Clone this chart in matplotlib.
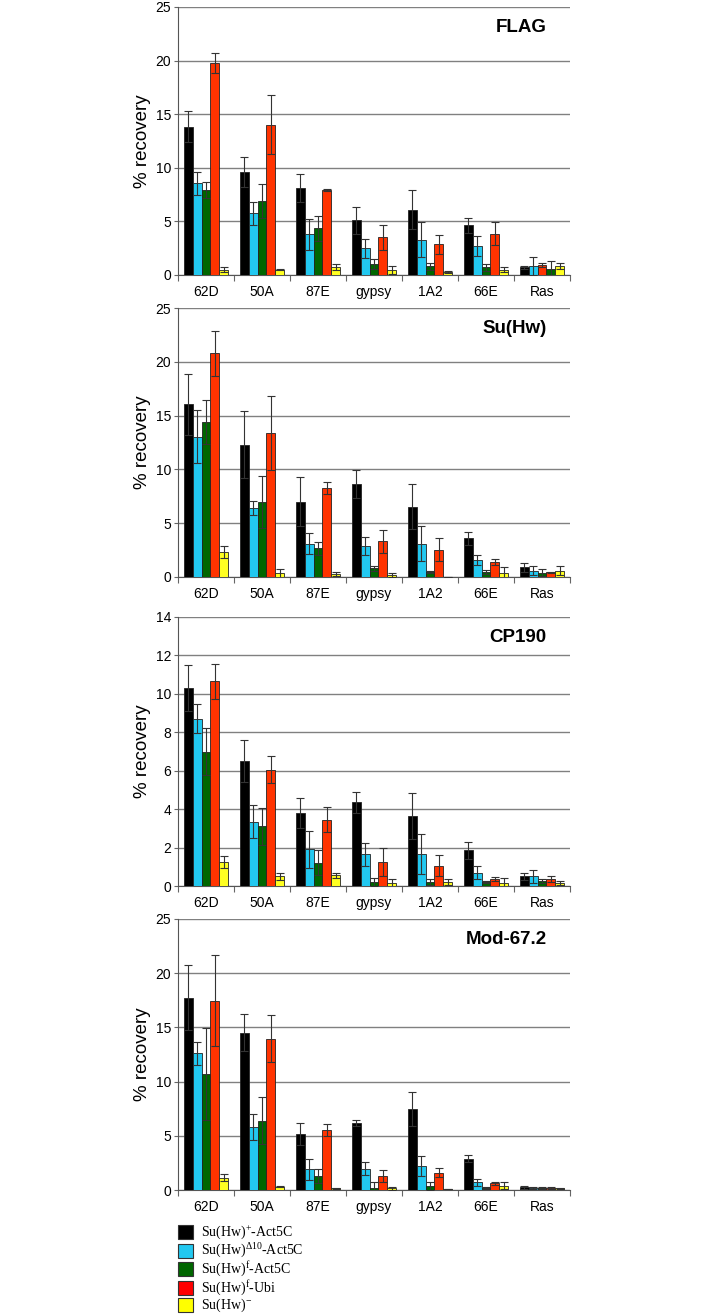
import matplotlib
matplotlib.use("Agg")
import matplotlib.pyplot as plt
import numpy as np

plt.rcParams['font.family'] = ['Liberation Sans', 'DejaVu Sans']
plt.rcParams['mathtext.fontset'] = 'custom'
plt.rcParams['mathtext.rm'] = 'Liberation Serif'
plt.rcParams['mathtext.it'] = 'Liberation Serif:italic'

loci = ['62D', '50A', '87E', 'gypsy', '1A2', '66E', 'Ras']
series = ['Su(Hw)$^{+}$-Act5C', 'Su(Hw)$^{\\Delta10}$-Act5C', 'Su(Hw)$^{\\mathrm{f}}$-Act5C',
          'Su(Hw)$^{\\mathrm{f}}$-Ubi', 'Su(Hw)$^{-}$']
colors = ['#000000', '#22c8f0', '#006600', '#ff3300', '#ffff22']
legend_colors = ['#000000', '#22c8f0', '#006600', '#ff0000', '#ffff00']

# FLAG
flag_mean = [
    [13.85, 9.6, 8.1, 5.1, 6.1, 4.65, 0.7],
    [8.55, 5.75, 3.8, 2.5, 3.3, 2.7, 0.85],
    [7.9, 6.9, 4.35, 1.0, 0.8, 0.7, 0.6],
    [19.8, 14.0, 7.95, 3.5, 2.85, 3.85, 0.95],
    [0.5, 0.5, 0.75, 0.45, 0.25, 0.5, 0.85],
]
flag_err = [
    [1.45, 1.4, 1.3, 1.25, 1.8, 0.7, 0.1],
    [1.1, 1.1, 1.45, 0.9, 1.65, 0.95, 0.85],
    [0.75, 1.55, 1.2, 0.45, 0.3, 0.3, 0.7],
    [0.95, 2.75, 0.1, 1.2, 0.85, 1.05, 0.2],
    [0.2, 0.05, 0.3, 0.35, 0.1, 0.2, 0.3],
]
# Su(Hw)
suhw_mean = [
    [16.05, 12.3, 7.0, 8.6, 6.55, 3.6, 0.9],
    [13.05, 6.45, 3.1, 2.85, 3.1, 1.6, 0.6],
    [14.4, 7.0, 2.65, 0.8, 0.45, 0.45, 0.4],
    [20.8, 13.35, 8.25, 3.3, 2.55, 1.4, 0.45],
    [2.3, 0.35, 0.3, 0.2, 0.03, 0.4, 0.6],
]
suhw_err = [
    [2.85, 3.1, 2.25, 1.3, 2.1, 0.6, 0.4],
    [2.5, 0.65, 1.0, 0.85, 1.65, 0.45, 0.4],
    [2.05, 2.4, 0.6, 0.25, 0.1, 0.2, 0.3],
    [2.1, 3.45, 0.55, 1.1, 1.1, 0.3, 0.05],
    [0.55, 0.4, 0.2, 0.2, 0.0, 0.5, 0.4],
]
# CP190
cp190_mean = [
    [10.3, 6.5, 3.8, 4.35, 3.65, 1.85, 0.5],
    [8.7, 3.35, 1.9, 1.65, 1.65, 0.7, 0.5],
    [7.0, 3.1, 1.2, 0.2, 0.2, 0.2, 0.25],
    [10.65, 6.05, 3.45, 1.25, 1.05, 0.35, 0.35],
    [1.25, 0.5, 0.55, 0.15, 0.2, 0.15, 0.15],
]
cp190_err = [
    [1.2, 1.1, 0.8, 0.55, 1.2, 0.45, 0.2],
    [0.75, 0.85, 0.95, 0.6, 1.05, 0.35, 0.35],
    [1.2, 0.95, 0.65, 0.2, 0.15, 0.05, 0.1],
    [0.9, 0.7, 0.65, 0.75, 0.55, 0.1, 0.15],
    [0.3, 0.2, 0.15, 0.2, 0.15, 0.25, 0.1],
]
# Mod-67.2
mod_mean = [
    [17.75, 14.5, 5.15, 6.2, 7.45, 2.9, 0.25],
    [12.6, 5.85, 1.9, 1.95, 2.2, 0.7, 0.2],
    [10.7, 6.4, 1.3, 0.2, 0.35, 0.2, 0.2],
    [17.45, 13.95, 5.5, 1.3, 1.6, 0.6, 0.2],
    [1.15, 0.3, 0.15, 0.15, 0.05, 0.4, 0.15],
]
mod_err = [
    [3.0, 1.7, 1.0, 0.25, 1.55, 0.3, 0.15],
    [1.05, 1.2, 0.95, 0.6, 0.95, 0.35, 0.1],
    [4.2, 2.2, 0.65, 0.55, 0.35, 0.1, 0.1],
    [4.2, 2.15, 0.55, 0.55, 0.4, 0.1, 0.1],
    [0.3, 0.05, 0.05, 0.15, 0.0, 0.35, 0.05],
]

panels = [
    ('FLAG', flag_mean, flag_err, 25, 5),
    ('Su(Hw)', suhw_mean, suhw_err, 25, 5),
    ('CP190', cp190_mean, cp190_err, 14, 2),
    ('Mod-67.2', mod_mean, mod_err, 25, 5),
]
# in the FLAG panel the Ras group has the red and green bars swapped
flag_ras_slots = [0, 1, 3, 2, 4]

# axes boxes in pixels: top, bottom
boxes = [(7, 275), (308, 577), (617, 886), (919, 1190)]
W, H = 714, 1314

fig = plt.figure(figsize=(W / 100, H / 100), dpi=100)
bw = 0.158
x = np.arange(len(loci))

for p, (title, means, errs, ymax, step) in enumerate(panels):
    top, bot = boxes[p]
    ax = fig.add_axes([178 / W, 1 - bot / H, 392 / W, (bot - top) / H])
    for s in range(len(series)):
        offs = np.full(len(loci), s, dtype=float)
        if p == 0:
            offs[-1] = flag_ras_slots[s]
        xs = x - 0.395 + bw / 2 + offs * bw
        ax.bar(xs, means[s], bw, color=colors[s], edgecolor='#222222',
               linewidth=0.6, zorder=3)
        ax.errorbar(xs, means[s], yerr=errs[s], fmt='none', ecolor='#333333',
                    elinewidth=0.8, capsize=2.8, capthick=0.8, zorder=4)
    ax.set_xlim(-0.5, len(loci) - 0.5)
    ax.set_ylim(0, ymax)
    ax.set_yticks(np.arange(0, ymax + 0.1, step))
    ax.yaxis.grid(True, color='#808080', linewidth=1.0, zorder=0)
    ax.set_axisbelow(True)
    ax.set_xticks(np.arange(-0.5, len(loci)), labels=[])
    ax.set_xticks(x, labels=loci, minor=True)
    ax.tick_params(axis='x', which='major', length=4, color='#666666', direction='out')
    ax.tick_params(axis='x', which='minor', length=0, pad=7, labelsize=10)
    ax.tick_params(axis='y', length=3, color='#666666', labelsize=10, pad=2)
    for sp in ['top', 'right']:
        ax.spines[sp].set_visible(False)
    ax.spines['left'].set_color('#555555')
    ax.spines['bottom'].set_color('#555555')
    ax.set_ylabel('% recovery', fontsize=13.5, labelpad=3)
    ax.text(0.94, 0.925, title, transform=ax.transAxes, ha='right', va='center',
            fontsize=13.5, fontweight='bold')

# legend drawn by hand, rows in pixel centres
legend_rows = [1232, 1251, 1269, 1288, 1305]
for c, lab, yc in zip(legend_colors, series, legend_rows):
    fig.add_artist(plt.Rectangle((178 / W, 1 - (yc + 7) / H), 15 / W, 14 / H,
                                 facecolor=c, edgecolor='#333333', linewidth=0.8,
                                 transform=fig.transFigure))
    fig.text(201 / W, 1 - yc / H, lab, ha='left', va='center',
             family='Liberation Serif', fontsize=10)

fig.savefig('out.png', dpi=100)
